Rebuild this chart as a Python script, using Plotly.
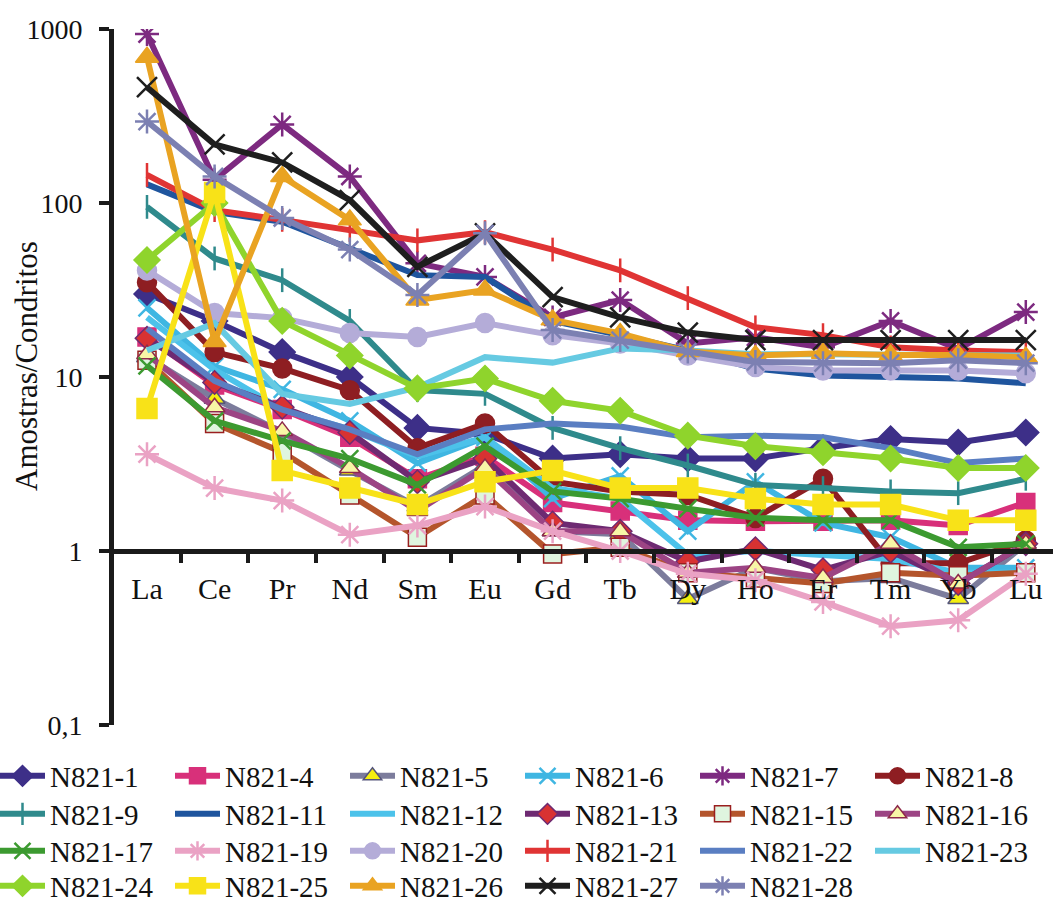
import plotly.graph_objects as go

categories = ["La", "Ce", "Pr", "Nd", "Sm", "Eu", "Gd", "Tb", "Dy", "Ho", "Er", "Tm", "Yb", "Lu"]

n821_1 = [30, 21, 13.9, 10, 5.1, 4.7, 3.4, 3.6, 3.4, 3.4, 3.9, 4.4, 4.2, 4.8]
n821_4 = [17, 9, 6.5, 4.5, 2.6, 3.5, 1.9, 1.7, 1.5, 1.48, 1.48, 1.5, 1.4, 1.9]
n821_5 = [13, 7.5, 4.8, 2.9, 1.8, 3.1, 1.3, 1.25, 0.53, 0.8, 0.67, 0.7, 0.53, 1.1]
n821_6 = [25, 11.5, 8.5, 5.6, 3.2, 4.5, 2.0, 2.7, 1.3, 2.5, 1.45, 1.2, 0.8, 0.8]
n821_7 = [935, 136, 283, 142, 45, 37.6, 22, 27.7, 15.6, 16.9, 14.8, 21, 14.5, 23.6]
n821_8 = [35, 13.9, 11.2, 8.4, 3.9, 5.4, 2.5, 2.2, 2.1, 1.55, 2.6, 0.85, 0.85, 1.15]
n821_9 = [95, 48, 36, 21, 8.4, 8, 5.1, 3.9, 3.1, 2.4, 2.3, 2.2, 2.15, 2.6]
n821_11 = [128, 89, 78, 55, 38.5, 37.6, 21, 17.4, 14.2, 11.2, 10.2, 10, 9.8, 9.2]
n821_12 = [22, 11, 6.5, 5, 3.5, 4.5, 2.3, 2.0, 0.95, 1.0, 0.95, 0.9, 0.75, 0.75]
n821_13 = [16.7, 9.3, 6.7, 4.8, 2.5, 3.4, 1.45, 1.3, 0.87, 1.03, 0.78, 1.0, 0.65, 1.1]
n821_15 = [12.5, 5.4, 3.7, 2.1, 1.2, 2.1, 0.96, 1.05, 0.75, 0.7, 0.65, 0.75, 0.72, 0.75]
n821_16 = [13.5, 6.7, 4.9, 3.0, 1.7, 3.0, 1.3, 1.3, 0.75, 0.8, 0.7, 1.1, 0.65, 1.1]
n821_17 = [11.6, 5.6, 4.3, 3.4, 2.4, 4.0, 2.2, 2.0, 1.75, 1.55, 1.5, 1.5, 1.05, 1.1]
n821_19 = [3.6, 2.3, 1.95, 1.24, 1.4, 1.8, 1.3, 1.0, 0.74, 0.68, 0.51, 0.37, 0.4, 0.74]
n821_20 = [41, 23.3, 21.8, 17.9, 17, 20.4, 17.4, 15.6, 13.3, 11.4, 10.9, 10.9, 10.9, 10.5]
n821_21 = [145, 91, 80, 70, 61, 68, 54, 41, 28.4, 19.3, 17.4, 14.8, 14.2, 13.9]
n821_22 = [19, 9.5, 6.5, 5, 3.6, 5, 5.4, 5.2, 4.5, 4.6, 4.5, 3.9, 3.2, 3.4]
n821_23 = [14.2, 20.4, 8, 7, 8.7, 13, 12.1, 14.6, 14.2, 13.5, 13.5, 13.5, 13.3, 13.3]
n821_24 = [47, 100, 21, 13.3, 8.6, 9.8, 7.3, 6.4, 4.6, 4.0, 3.7, 3.4, 3.0, 3.0]
n821_25 = [6.6, 115, 2.9, 2.3, 1.85, 2.5, 2.9, 2.3, 2.3, 2.0, 1.85, 1.85, 1.5, 1.5]
n821_26 = [689, 16, 142, 80, 27.7, 31.6, 21.3, 17.8, 14, 13.3, 13.7, 13.4, 13.4, 13]
n821_27 = [463, 217, 171, 104, 43, 67, 28.8, 22, 18, 16.3, 16.3, 16.3, 16.3, 16.3]
n821_28 = [294, 142, 82, 54, 29.6, 67, 18.6, 16.3, 14, 12.2, 12, 12, 12.5, 12]

y_tick_values = [0.1, 1, 10, 100, 1000]
y_tick_labels = ["0,1", "1", "10", "100", "1000"]

series = [
    ("N821-1", n821_1), ("N821-4", n821_4), ("N821-5", n821_5), ("N821-6", n821_6),
    ("N821-7", n821_7), ("N821-8", n821_8), ("N821-9", n821_9), ("N821-11", n821_11),
    ("N821-12", n821_12), ("N821-13", n821_13), ("N821-15", n821_15), ("N821-16", n821_16),
    ("N821-17", n821_17), ("N821-19", n821_19), ("N821-20", n821_20), ("N821-21", n821_21),
    ("N821-22", n821_22), ("N821-23", n821_23), ("N821-24", n821_24), ("N821-25", n821_25),
    ("N821-26", n821_26), ("N821-27", n821_27), ("N821-28", n821_28),
]

# style: line colour, marker symbol, marker fill, marker outline, marker size
styles = {
    "N821-1": ("#3d2f88", "diamond", "#3d2f88", "#3d2f88", 20),
    "N821-4": ("#d8307a", "square", "#d8307a", "#d8307a", 18),
    "N821-5": ("#7c7c9c", "triangle-up", "#f4ee10", "#55557a", 18),
    "N821-6": ("#3fb6e2", "x-thin-open", "#3fb6e2", "#3fb6e2", 17),
    "N821-7": ("#7d2a80", "asterisk-open", "#7d2a80", "#7d2a80", 20),
    "N821-8": ("#8e1e22", "circle", "#8e1e22", "#8e1e22", 19),
    "N821-9": ("#2f8a8c", "line-ns-open", "#2f8a8c", "#2f8a8c", 17),
    "N821-11": ("#1f559e", None, None, None, 0),
    "N821-12": ("#4cc2ea", None, None, None, 0),
    "N821-13": ("#6e2a72", "diamond", "#d83232", "#6e2a72", 18),
    "N821-15": ("#b4552c", "square", "#dff5df", "#9a1f1f", 18),
    "N821-16": ("#9c4484", "triangle-up", "#f8f6a6", "#8e2a4a", 18),
    "N821-17": ("#3c9a30", "x-thin-open", "#3c9a30", "#3c9a30", 17),
    "N821-19": ("#eaa2c4", "asterisk-open", "#eaa2c4", "#eaa2c4", 20),
    "N821-20": ("#b4acd8", "circle", "#b4acd8", "#b4acd8", 19),
    "N821-21": ("#e03434", "line-ns-open", "#e03434", "#e03434", 17),
    "N821-22": ("#5a7ec2", None, None, None, 0),
    "N821-23": ("#66cae2", None, None, None, 0),
    "N821-24": ("#8fd42c", "diamond", "#8fd42c", "#8fd42c", 20),
    "N821-25": ("#f8e218", "square", "#f8e218", "#f8e218", 20),
    "N821-26": ("#e9a322", "triangle-up", "#e9a322", "#e9a322", 20),
    "N821-27": ("#1e1e1e", "x-thin-open", "#1e1e1e", "#1e1e1e", 20),
    "N821-28": ("#7c80b2", "asterisk-open", "#7c80b2", "#7c80b2", 20),
}

legend_rows = ["legend"] * 6 + ["legend2"] * 6 + ["legend3"] * 6 + ["legend4"] * 5

SERIF = "Times New Roman"

fig = go.Figure()
for (name, vals), leg in zip(series, legend_rows):
    lc, sym, fill, outline, msize = styles[name]
    if sym is None:
        fig.add_trace(go.Scatter(x=categories, y=vals, name=name, mode="lines",
                                 line=dict(color=lc, width=6), legend=leg))
    else:
        open_sym = sym.endswith("-open")
        fig.add_trace(go.Scatter(
            x=categories, y=vals, name=name, mode="lines+markers",
            line=dict(color=lc, width=6), legend=leg,
            marker=dict(symbol=sym, size=msize, color=fill,
                        line=dict(color=outline, width=2.5 if open_sym else 1.5)),
        ))

W, H = 1053, 902
ML, MR, MT, MB = 114, 0, 29, 177
pw = W - ML - MR
ph = H - MT - MB
cat_step = 67.6
first_cat_px = 147


def legend_cfg(center_px):
    return dict(
        orientation="h", x=(-5 - ML) / pw, xanchor="left",
        y=(ph + MT - center_px) / ph, yanchor="middle",
        font=dict(family=SERIF, size=29, color="#111"),
        bgcolor="rgba(0,0,0,0)", itemwidth=45,
        entrywidth=115, entrywidthmode="pixels", traceorder="normal",
    )


fig.update_layout(
    width=W, height=H,
    margin=dict(l=ML, r=MR, t=MT, b=MB, autoexpand=False),
    paper_bgcolor="white", plot_bgcolor="white",
    font=dict(family=SERIF, color="#111"),
    legend=legend_cfg(776),
    legend2=legend_cfg(814),
    legend3=legend_cfg(851),
    legend4=legend_cfg(886),
    xaxis=dict(
        type="category", anchor="free", position=0.25,
        range=[-(first_cat_px - ML) / cat_step, (W - MR - first_cat_px) / cat_step],
        showline=True, linecolor="#1a1a1a", linewidth=5,
        ticks="outside", ticklen=9, tickwidth=4, tickcolor="#1a1a1a",
        tickson="boundaries", showgrid=False, zeroline=False,
        ticklabelstandoff=9,
        tickfont=dict(family=SERIF, size=30, color="#111"),
    ),
    yaxis=dict(
        type="log", range=[-1, 3],
        showline=True, linecolor="#1a1a1a", linewidth=5,
        ticks="outside", ticklen=10, tickwidth=4, tickcolor="#1a1a1a",
        tickvals=y_tick_values, ticktext=y_tick_labels,
        showgrid=False, zeroline=False, ticklabelstandoff=11,
        tickfont=dict(family=SERIF, size=28, color="#111"),
    ),
    annotations=[dict(
        text="Amostras/Condritos", textangle=-90, showarrow=False,
        xref="paper", yref="paper", x=(26 - ML) / pw, y=(ph + MT - 366) / ph,
        xanchor="center", yanchor="middle",
        font=dict(family=SERIF, size=31, color="#111"),
    )],
)

fig.write_html(
    "out.html",
    config={"displayModeBar": False},
    post_script="document.body.style.margin='0';document.body.style.padding='0';"
                "document.documentElement.style.margin='0';",
)
